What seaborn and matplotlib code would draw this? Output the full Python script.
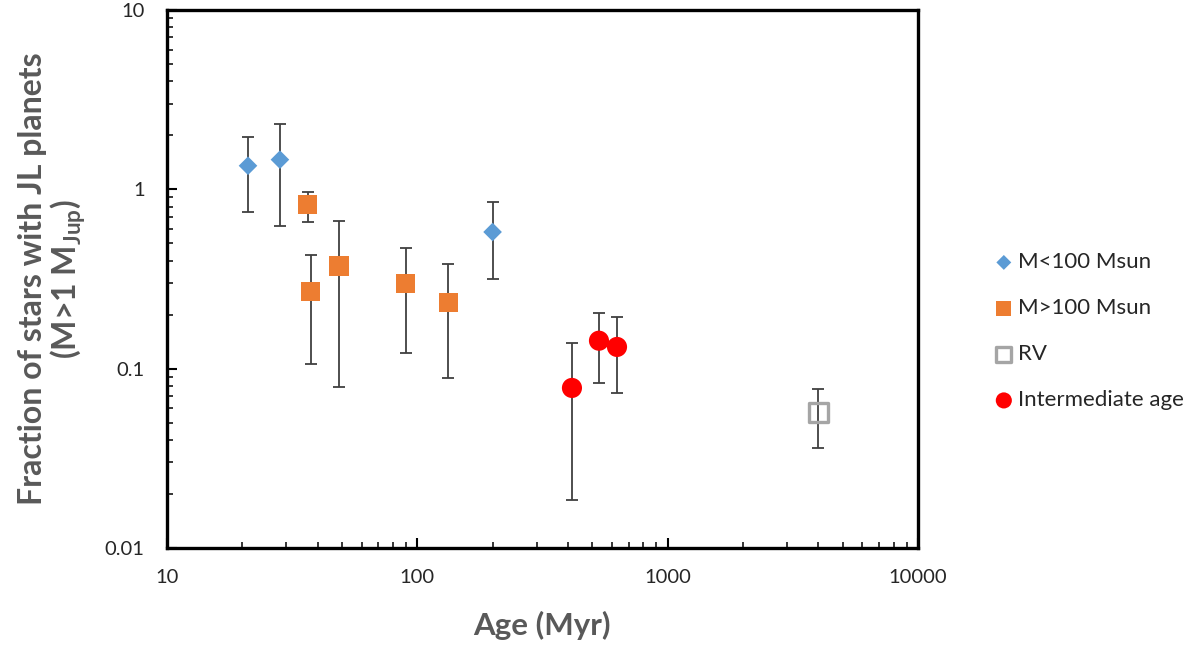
import matplotlib
matplotlib.use("Agg")
import matplotlib.pyplot as plt
from matplotlib.ticker import LogLocator, FixedLocator, NullFormatter
import seaborn as sns
import numpy as np

# -----------------------------
# Data
# -----------------------------
low_age = [21.1, 28.3, 200]
low_frac = [1.35, 1.46, 0.577]
low_lo = [0.747, 0.624, 0.315]
low_hi = [1.95, 2.32, 0.846]

high_age = [36.5, 37.6, 48.7, 90, 133]
high_frac = [0.817, 0.268, 0.373, 0.298, 0.234]
high_lo = [0.656, 0.106, 0.079, 0.122, 0.089]
high_hi = [0.966, 0.431, 0.668, 0.472, 0.381]

rv_age = [4000]
rv_frac = [0.0566]
rv_lo = [0.036]
rv_hi = [0.0773]

mid_age = [415, 532, 628]
mid_frac = [0.078, 0.143, 0.132]
mid_lo = [0.0185, 0.0835, 0.073]
mid_hi = [0.138, 0.204, 0.193]

x_ticks = [10, 100, 1000, 10000]
x_ticklabels = ["10", "100", "1000", "10000"]
y_ticks = [0.01, 0.1, 1, 10]
y_ticklabels = ["0.01", "0.1", "1", "10"]

# -----------------------------
# Style
# -----------------------------
sns.set_style("white")
plt.rcParams['font.family'] = ['Lato', 'DejaVu Sans']
plt.rcParams['mathtext.fontset'] = 'custom'
plt.rcParams['mathtext.rm'] = 'Lato'
plt.rcParams['mathtext.bf'] = 'Lato:bold'

fig = plt.figure(figsize=(12, 6.47), dpi=100)
ax = fig.add_axes([0.139, 0.153, 0.626, 0.832])

err_kw = dict(fmt="none", ecolor="#404040", elinewidth=1.3, capsize=4.5,
              capthick=1.3, zorder=2)

groups = [
    (low_age, low_frac, low_lo, low_hi),
    (high_age, high_frac, high_lo, high_hi),
    (rv_age, rv_frac, rv_lo, rv_hi),
    (mid_age, mid_frac, mid_lo, mid_hi),
]
for age, frac, lo, hi in groups:
    frac = np.array(frac)
    yerr = [frac - np.array(lo), np.array(hi) - frac]
    ax.errorbar(age, frac, yerr=yerr, **err_kw)

sns.scatterplot(x=low_age, y=low_frac, marker="D", s=90, color="#5B9BD5",
                edgecolor="none", label="M<100 Msun", ax=ax, zorder=3)
sns.scatterplot(x=high_age, y=high_frac, marker="s", s=190, color="#ED7D31",
                edgecolor="none", label="M>100 Msun", ax=ax, zorder=3)
sns.scatterplot(x=rv_age, y=rv_frac, marker="s", s=185, facecolor="none",
                edgecolor="#A5A5A5", linewidth=2.4, label="RV", ax=ax, zorder=3)
sns.scatterplot(x=mid_age, y=mid_frac, marker="o", s=210, color="#FF0000",
                edgecolor="none", label="Intermediate age", ax=ax, zorder=3)

ax.set_xscale("log")
ax.set_yscale("log")
ax.set_xlim(10, 10000)
ax.set_ylim(0.01, 10)

ax.xaxis.set_major_locator(FixedLocator(x_ticks))
ax.yaxis.set_major_locator(FixedLocator(y_ticks))
ax.set_xticklabels(x_ticklabels)
ax.set_yticklabels(y_ticklabels)
ax.xaxis.set_minor_locator(LogLocator(base=10, subs=np.arange(2, 10)))
ax.yaxis.set_minor_locator(LogLocator(base=10, subs=np.arange(2, 10)))
ax.xaxis.set_minor_formatter(NullFormatter())
ax.yaxis.set_minor_formatter(NullFormatter())

ax.tick_params(which="major", direction="in", length=7, width=1.5,
               labelsize=14.5, colors="black")
ax.tick_params(which="minor", direction="in", length=4.5, width=1.3)
ax.tick_params(axis="y", which="both", left=True, right=False, pad=16)
ax.tick_params(axis="x", which="both", bottom=True, top=False, pad=15)
for lab in ax.get_xticklabels() + ax.get_yticklabels():
    lab.set_color("#262626")

for side in ["left", "right", "top", "bottom"]:
    ax.spines[side].set_visible(True)
    ax.spines[side].set_color("black")
    ax.spines[side].set_linewidth(2.4)

ax.set_xlabel("Age (Myr)", fontsize=22.5, fontweight="bold", color="#595959",
              labelpad=18)
ax.set_ylabel("Fraction of stars with JL planets\n(M>1 M$_{\\mathbf{Jup}}$)",
              fontsize=23, fontweight="bold", color="#595959", labelpad=12,
              linespacing=1.05)

ax.legend(loc="center left", bbox_to_anchor=(0.818, 0.488), bbox_transform=fig.transFigure,
          frameon=False, fontsize=16, handletextpad=0.05, labelspacing=1.17,
          markerscale=0.8, borderaxespad=0, handlelength=1.2)

fig.savefig("out.png", dpi=100)
